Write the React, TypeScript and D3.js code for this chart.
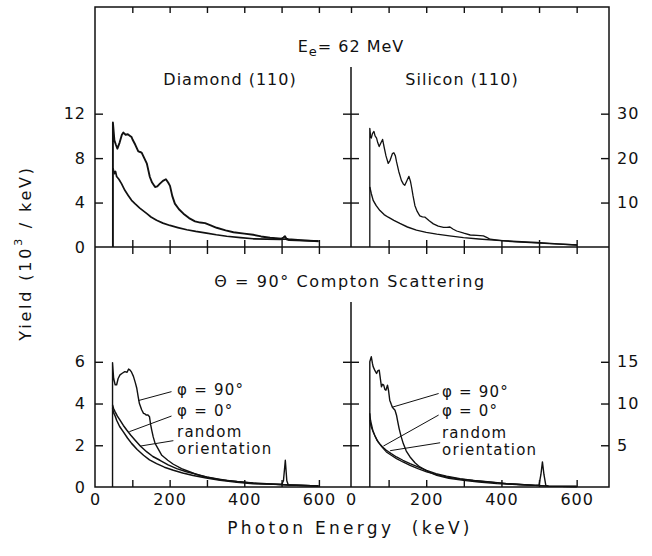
import { useEffect, useRef } from "react"
import * as d3 from "d3"

type Pt = [number, number]

// ---- top panels: E_e = 62 MeV, aligned vs random spectra ----
// diamond, yield in 10^3/keV (left axis)
const diamondAligned: Pt[] = [
  [48, 0], [48, 11.2], [52, 9.6], [56, 9.2], [60, 8.85], [66, 9.4], [72, 10.1], [76, 10.3],
  [82, 10.1], [88, 10.15], [94, 10.0], [98, 9.9], [101, 9.65], [108, 9.2], [116, 8.6],
  [121, 8.55], [125, 8.5], [132, 8.0], [139, 7.5], [143, 6.9], [147, 6.3], [153, 5.8],
  [161, 5.4], [167, 5.45], [174, 5.7], [182, 5.95], [190, 6.1], [196, 5.8], [201, 5.5],
  [207, 4.6], [214, 3.9], [225, 3.4], [237, 3.0], [252, 2.6], [268, 2.3], [282, 2.2],
  [295, 2.15], [310, 1.95], [326, 1.73], [350, 1.5], [371, 1.33], [400, 1.2], [424, 1.1],
  [445, 0.95], [469, 0.83], [500, 0.75], [505, 0.85], [509, 0.97], [513, 0.75], [518, 0.7],
  [560, 0.6], [599, 0.52],
]
const diamondRandom: Pt[] = [
  [48, 7.1], [52, 6.6], [55, 6.8], [58, 6.35], [64, 6.1], [71, 5.7], [80, 5.1], [89, 4.64],
  [98, 4.2], [107, 3.9], [120, 3.5], [139, 3.0], [150, 2.7], [165, 2.4], [182, 2.15],
  [201, 1.94], [222, 1.75], [246, 1.55], [270, 1.4], [299, 1.25], [325, 1.1], [353, 0.97],
  [390, 0.85], [424, 0.74], [460, 0.7], [496, 0.68], [509, 0.72], [520, 0.62], [560, 0.57],
  [599, 0.52],
]
// silicon, right axis units
const siliconAligned: Pt[] = [
  [50, 0], [50, 26.7], [52, 25], [54, 24.5], [57, 25.5], [61, 26], [64, 25], [68, 24.5],
  [71, 23.5], [75, 22.6], [80, 23.5], [84, 24.2], [88, 22.5], [93, 20.5], [99, 18.8],
  [104, 19.5], [110, 21], [114, 21.2], [118, 20.5], [121, 19.2], [127, 17], [134, 15],
  [139, 14.2], [143, 13.9], [148, 14.8], [154, 15.9], [158, 14.8], [161, 13.5], [165, 11.5],
  [170, 9.3], [176, 8], [183, 7.0], [190, 6.8], [197, 6.7], [208, 5.9], [219, 5.2],
  [232, 4.7], [246, 4.4], [255, 4.4], [263, 4.5], [272, 4.0], [281, 3.6], [300, 3.1],
  [317, 2.7], [335, 2.6], [352, 2.5], [362, 2.1], [370, 1.75], [406, 1.36], [440, 1.15],
  [477, 1.0], [540, 0.7], [601, 0.45],
]
const siliconRandom: Pt[] = [
  [50, 13.5], [54, 12], [59, 10.5], [67, 9.3], [77, 8.2], [88, 7.3], [99, 6.7], [114, 6.0],
  [130, 5.3], [150, 4.5], [174, 3.8], [200, 3.3], [228, 2.9], [262, 2.5], [299, 2.1],
  [340, 1.8], [388, 1.5], [440, 1.25], [494, 1.0], [550, 0.7], [601, 0.45],
]

// ---- bottom panels: Θ = 90° Compton scattering ----
const diamondPhi90: Pt[] = [
  [47, 0], [47, 5.96], [50, 5.2], [54, 4.9], [58, 4.9], [62, 5.2], [67, 5.37], [73, 5.45],
  [80, 5.53], [86, 5.5], [90, 5.65], [94, 5.6], [98, 5.5], [103, 5.3], [108, 5.0],
  [112, 4.73], [116, 4.3], [119, 4.0], [125, 3.7], [130, 3.53], [134, 3.5], [137, 3.45],
  [142, 3.45], [146, 3.37], [149, 3.0], [152, 2.73], [156, 2.4], [161, 2.09], [170, 1.8],
  [179, 1.52], [195, 1.28], [210, 1.09], [232, 0.88], [255, 0.72], [275, 0.58], [299, 0.48],
  [325, 0.4], [353, 0.32], [390, 0.24], [434, 0.16], [470, 0.14], [500, 0.12], [505, 0.3],
  [510, 1.28], [514, 0.3], [518, 0.1], [560, 0.07], [599, 0.05],
]
const diamondPhi0: Pt[] = [
  [47, 3.93], [50, 3.75], [54, 3.6], [60, 3.4], [67, 3.2], [76, 2.95], [85, 2.73], [96, 2.48],
  [107, 2.25], [122, 1.95], [139, 1.68], [155, 1.46], [174, 1.28], [196, 1.06], [219, 0.88],
  [245, 0.73], [272, 0.61], [300, 0.47], [335, 0.35], [380, 0.26], [424, 0.19], [460, 0.15],
  [496, 0.12], [518, 0.1], [560, 0.07], [599, 0.05],
]
const diamondRandomC: Pt[] = [
  [47, 3.77], [50, 3.55], [54, 3.4], [58, 3.2], [66, 2.9], [76, 2.64], [87, 2.35], [98, 2.09],
  [113, 1.8], [130, 1.52], [146, 1.3], [165, 1.12], [186, 0.95], [210, 0.8], [235, 0.67],
  [263, 0.55], [298, 0.43], [335, 0.32], [380, 0.23], [424, 0.16], [460, 0.14], [496, 0.12],
  [518, 0.1], [560, 0.07], [599, 0.05],
]
const siliconPhi90: Pt[] = [
  [50, 0], [50, 15.0], [52, 15.3], [54, 15.6], [57, 14.8], [59, 14.4], [63, 14.0], [68, 13.6],
  [71, 13.9], [75, 14.0], [78, 13.0], [81, 12.0], [84, 12.3], [87, 12.2], [90, 11.7],
  [93, 11.6], [97, 12.2], [100, 11.5], [103, 10.4], [107, 9.9], [110, 9.55], [117, 9.2],
  [121, 8.6], [124, 7.9], [128, 7.0], [133, 6.1], [139, 5.2], [147, 4.3], [157, 3.6],
  [170, 2.9], [183, 2.4], [205, 1.85], [228, 1.4], [260, 1.05], [299, 0.8], [340, 0.6],
  [388, 0.4], [440, 0.3], [490, 0.2], [500, 0.25], [505, 1.5], [509, 3.0], [513, 1.5],
  [518, 0.2], [525, 0.1], [560, 0.08], [600, 0.06],
]
const siliconPhi0: Pt[] = [
  [50, 8.83], [52, 8.0], [54, 7.6], [58, 6.8], [63, 6.2], [69, 5.6], [76, 5.2], [84, 4.8],
  [94, 4.4], [107, 4.0], [121, 3.6], [138, 3.2], [157, 2.8], [178, 2.4], [201, 2.0],
  [226, 1.6], [254, 1.29], [290, 1.0], [325, 0.8], [370, 0.6], [414, 0.4], [450, 0.3],
  [490, 0.2], [525, 0.1], [560, 0.08], [600, 0.06],
]
const siliconRandomC: Pt[] = [
  [50, 8.0], [53, 7.3], [59, 6.6], [65, 6.0], [72, 5.4], [82, 4.8], [94, 4.2], [107, 3.8],
  [121, 3.4], [138, 3.0], [157, 2.6], [178, 2.2], [201, 1.8], [226, 1.5], [254, 1.2],
  [290, 0.95], [325, 0.78], [370, 0.58], [414, 0.4], [450, 0.3], [490, 0.2], [525, 0.1],
  [560, 0.08], [600, 0.06],
]

// annotations (keV, yield): text anchor and leader line from/to
const curveLabels = ["φ = 90°", "φ = 0°", "random", "orientation"]
const diamondLabelPos: Pt[] = [[220, 4.65], [220, 3.64], [220, 2.62], [220, 1.8]]
const diamondLeaders: [Pt, Pt][] = [
  [[205, 4.57], [116, 4.14]],
  [[205, 3.4], [92, 2.65]],
  [[210, 2.22], [121, 1.96]],
]
const siliconLabelPos: Pt[] = [[242, 11.4], [242, 9.14], [242, 6.5], [242, 4.45]]
const siliconLeaders: [Pt, Pt][] = [
  [[233, 11.2], [109, 9.55]],
  [[233, 8.62], [86, 4.9]],
  [[237, 5.3], [104, 4.35]],
]

const xMinor = [100, 200, 300, 400, 500, 600]
const xLabels = [0, 200, 400, 600]
const topLeftTicks = [0, 4, 8, 12]
const topRightTicks = [10, 20, 30]
const botLeftTicks = [0, 2, 4, 6]
const botRightTicks = [5, 10, 15]

const ink = "#111"
const font = "'DejaVu Sans', sans-serif"

export default function App() {
  const ref = useRef<SVGSVGElement>(null)

  useEffect(() => {
    const W = 652
    const H = 556
    // frame edges
    const left = 95, mid = 351, right = 609
    const top = 7, middle = 247, bottom = 487

    const svg = d3.select(ref.current)
    svg.selectAll("*").remove()
    svg.attr("width", W).attr("height", H)

    const xL = d3.scaleLinear().domain([0, 686]).range([left, mid])
    const xR = d3.scaleLinear().domain([0, 686]).range([mid, right])
    const yTL = d3.scaleLinear().domain([0, 21.6]).range([middle, top])
    const yTR = d3.scaleLinear().domain([0, 54]).range([middle, top])
    const yBL = d3.scaleLinear().domain([0, 11.5]).range([bottom, middle])
    const yBR = d3.scaleLinear().domain([0, 28.75]).range([bottom, middle])

    const styleAxis = (g: any) => {
      g.select(".domain").remove()
      g.selectAll("line").attr("stroke", ink).attr("stroke-width", 1.4)
      g.selectAll("text")
        .attr("font-family", font)
        .attr("font-size", 16)
        .attr("letter-spacing", 1)
        .attr("fill", ink)
    }
    const axis = (a: any, tx: number, ty: number) =>
      svg.append("g").attr("transform", `translate(${tx},${ty})`).call(a).call(styleAxis)

    // frame, middle line and dividers
    svg.append("rect")
      .attr("x", left).attr("y", top)
      .attr("width", right - left).attr("height", bottom - top)
      .attr("fill", "none").attr("stroke", ink).attr("stroke-width", 1.5)
    svg.append("line")
      .attr("x1", left).attr("x2", right).attr("y1", middle).attr("y2", middle)
      .attr("stroke", ink).attr("stroke-width", 1.5)
    svg.append("line")
      .attr("x1", mid).attr("x2", mid).attr("y1", 67).attr("y2", middle)
      .attr("stroke", ink).attr("stroke-width", 1.5)
    svg.append("line")
      .attr("x1", mid).attr("x2", mid).attr("y1", 302).attr("y2", bottom)
      .attr("stroke", ink).attr("stroke-width", 1.5)

    const none = () => ""
    // x ticks: top border (inward), middle (crossing), bottom (inward)
    ;[xL, xR].forEach((x, i) => {
      const vals = i === 0 ? xMinor : [0, ...xMinor]
      axis(d3.axisBottom(x).tickValues(vals).tickSize(6).tickFormat(none), 0, top)
      axis(d3.axisBottom(x).tickValues(xMinor).tickSize(7).tickFormat(none), 0, middle)
      axis(d3.axisTop(x).tickValues(xMinor).tickSize(7).tickFormat(none), 0, middle)
      axis(d3.axisTop(x).tickValues(xMinor).tickSize(7).tickFormat(none), 0, bottom)
      axis(d3.axisBottom(x).tickValues(xLabels).tickSize(0).tickPadding(7).tickFormat(d3.format("d")), 0, bottom)
    })

    // y ticks
    const yAxes: [any, number[], any, number[]][] = [
      [yTL, topLeftTicks, yTR, topRightTicks],
      [yBL, botLeftTicks, yBR, botRightTicks],
    ]
    yAxes.forEach(([yl, lt, yr, rt]) => {
      const inner = lt.filter((v) => v > 0)
      axis(d3.axisRight(yl).tickValues(inner).tickSize(8).tickFormat(none), left, 0)
      axis(d3.axisLeft(yl).tickValues(lt).tickSize(0).tickPadding(9).tickFormat(d3.format("d")), left, 0)
      axis(d3.axisLeft(yr).tickValues(rt).tickSize(8).tickFormat(none), mid, 0)
      axis(d3.axisRight(yr).tickValues(rt).tickSize(8).tickFormat(none), mid, 0)
      axis(d3.axisLeft(yr).tickValues(rt).tickSize(8).tickFormat(none), right, 0)
      axis(d3.axisRight(yr).tickValues(rt).tickSize(0).tickPadding(8).tickFormat(d3.format("d")), right, 0)
    })

    // spectra
    const curve = (data: Pt[], x: any, y: any, w: number) =>
      svg.append("path")
        .datum(data)
        .attr("d", d3.line<Pt>().x((d) => x(d[0])).y((d) => y(d[1])))
        .attr("fill", "none")
        .attr("stroke", ink)
        .attr("stroke-width", w)
        .attr("stroke-linejoin", "round")

    curve(diamondAligned, xL, yTL, 1.9)
    curve(diamondRandom, xL, yTL, 1.7)
    curve(siliconAligned, xR, yTR, 1.3)
    curve(siliconRandom, xR, yTR, 1.4)
    curve(diamondPhi90, xL, yBL, 1.4)
    curve(diamondPhi0, xL, yBL, 1.5)
    curve(diamondRandomC, xL, yBL, 1.5)
    curve(siliconPhi90, xR, yBR, 1.4)
    curve(siliconPhi0, xR, yBR, 1.3)
    curve(siliconRandomC, xR, yBR, 1.3)

    // annotations
    const annotate = (pos: Pt[], leaders: [Pt, Pt][], x: any, y: any) => {
      leaders.forEach(([a, b]) => {
        svg.append("line")
          .attr("x1", x(a[0])).attr("y1", y(a[1]))
          .attr("x2", x(b[0])).attr("y2", y(b[1]))
          .attr("stroke", ink).attr("stroke-width", 1)
      })
      pos.forEach((p, i) => {
        svg.append("text")
          .attr("x", x(p[0])).attr("y", y(p[1]))
          .attr("dominant-baseline", "central")
          .attr("font-family", font).attr("font-size", 15).attr("letter-spacing", 1.2)
          .attr("fill", ink)
          .text(curveLabels[i])
      })
    }
    annotate(diamondLabelPos, diamondLeaders, xL, yBL)
    annotate(siliconLabelPos, siliconLeaders, xR, yBR)

    // titles
    const label = (t: string, x: number, y: number, size = 16, ls = 1) =>
      svg.append("text")
        .attr("x", x).attr("y", y)
        .attr("text-anchor", "middle")
        .attr("dominant-baseline", "central")
        .attr("font-family", font).attr("font-size", size).attr("letter-spacing", ls)
        .attr("fill", ink)
        .style("white-space", "pre")
        .text(t)

    const ee = svg.append("text")
      .attr("x", 351).attr("y", 46)
      .attr("text-anchor", "middle")
      .attr("dominant-baseline", "central")
      .attr("font-family", font).attr("font-size", 16).attr("letter-spacing", 1)
      .attr("fill", ink)
    ee.append("tspan").text("E")
    ee.append("tspan").attr("font-size", 13).attr("dy", 5).text("e")
    ee.append("tspan").attr("dy", -5).text("= 62 MeV")

    label("Diamond (110)", 230, 79)
    label("Silicon (110)", 462, 79)
    label("Θ = 90° Compton Scattering", 350, 281, 16, 1.6)
    label("Photon Energy  (keV)", 350, 528, 17, 3.3)

    const yl = svg.append("text")
      .attr("transform", "translate(25,253) rotate(-90)")
      .attr("text-anchor", "middle")
      .attr("dominant-baseline", "central")
      .attr("font-family", font).attr("font-size", 16).attr("letter-spacing", 2.8)
      .attr("fill", ink)
      .style("white-space", "pre")
    yl.append("tspan").text("Yield (10")
    yl.append("tspan").attr("font-size", 11).attr("dy", -7).text("3")
    yl.append("tspan").attr("dy", 7).text(" / keV)")
  }, [])

  return (
    <div>
      <svg ref={ref} style={{ position: "absolute", left: 0, top: 0, background: "#fff" }} />
    </div>
  )
}
